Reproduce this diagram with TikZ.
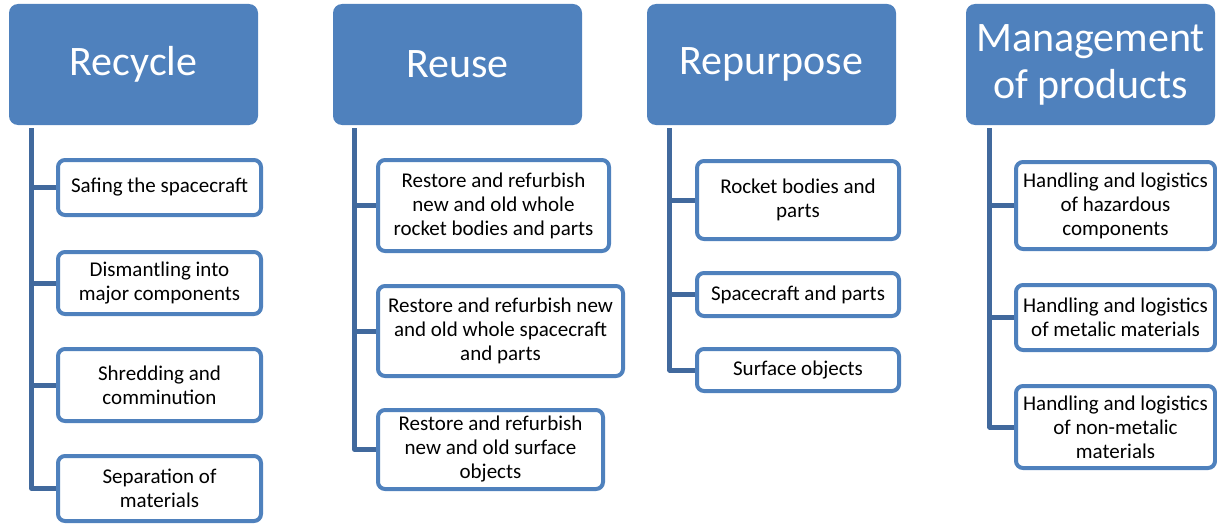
\documentclass[tikz,border=0pt]{standalone}
\usepackage{fontspec}
\setmainfont{Carlito}
\usepackage{tikz}
\usetikzlibrary{positioning,calc}
\definecolor{HEADBLUE}{HTML}{4F81BD}
\definecolor{LINKBLUE}{HTML}{41699D}
\tikzstyle{HEADER} = [rectangle, rounded corners=9pt, fill=HEADBLUE, text=white, align=center, inner sep=0pt, minimum width=249pt, minimum height=121pt, font=\fontsize{42}{47}\selectfont]
\tikzstyle{ITEM} = [rectangle, rounded corners=7pt, draw=HEADBLUE, line width=4pt, fill=white, align=center, inner sep=0pt, font=\fontsize{21}{24}\selectfont]
\tikzstyle{LINE} = [draw=LINKBLUE, line width=5pt, line join=round]

\begin{document}
\begin{tikzpicture}[x=1pt, y=-1pt]
\useasboundingbox (0,0) rectangle (1217,527);
% Place nodes
\node [HEADER] (rec) at (133.5,64.5) {Recycle};
\node [HEADER] (reu) at (457.5,64.5) {Reuse};
\node [HEADER] (rep) at (771.5,64.5) {Repurpose};
\node [HEADER] (man) at (1090.5,64.5) {Management\\of products};
% Recycle
\node [ITEM, minimum width=203pt, minimum height=55pt] (rec1) at (159.5,187.5) {Safing the spacecraft};
\node [ITEM, minimum width=203pt, minimum height=62pt] (rec2) at (159.5,283) {Dismantling into\\major components};
\node [ITEM, minimum width=203pt, minimum height=72pt] (rec3) at (159.5,385) {Shredding and\\comminution};
\node [ITEM, minimum width=203pt, minimum height=65pt] (rec4) at (159.5,488.5) {Separation of\\materials};
% Reuse
\node [ITEM, minimum width=231pt, minimum height=91pt] (reu1) at (493.5,205.5) {Restore and refurbish\\new and old whole\\rocket bodies and parts};
\node [ITEM, minimum width=245pt, minimum height=90pt] (reu2) at (500.5,331) {Restore and refurbish new\\and old whole spacecraft\\and parts};
\node [ITEM, minimum width=225pt, minimum height=79pt] (reu3) at (490.5,449.5) {Restore and refurbish\\new and old surface\\objects};
% Repurpose
\node [ITEM, minimum width=202pt, minimum height=78pt] (rep1) at (798,200) {Rocket bodies and\\parts};
\node [ITEM, minimum width=202pt, minimum height=43pt] (rep2) at (798,294.5) {Spacecraft and parts};
\node [ITEM, minimum width=202pt, minimum height=42pt] (rep3) at (798,370) {Surface objects};
% Management
\node [ITEM, minimum width=199pt, minimum height=87pt] (man1) at (1115.5,205.5) {Handling and logistics\\of hazardous\\components};
\node [ITEM, minimum width=199pt, minimum height=65pt] (man2) at (1115.5,317.5) {Handling and logistics\\of metalic materials};
\node [ITEM, minimum width=199pt, minimum height=82pt] (man3) at (1115.5,427) {Handling and logistics\\of non-metalic\\materials};
% LINES
\coordinate (rec0) at ($(rec.south west)+(23,3)$);
\coordinate (reu0) at ($(reu.south west)+(22,3)$);
\coordinate (rep0) at ($(rep.south west)+(23,3)$);
\coordinate (man0) at ($(man.south west)+(24,3)$);
\path [LINE] (rec0) |- (rec4.west);
\path [LINE] (rec0) |- (rec1.west);
\path [LINE] (rec0) |- (rec2.west);
\path [LINE] (rec0) |- (rec3.west);
\path [LINE] (reu0) |- (reu3.west);
\path [LINE] (reu0) |- (reu1.west);
\path [LINE] (reu0) |- (reu2.west);
\path [LINE] (rep0) |- (rep3.west);
\path [LINE] (rep0) |- (rep1.west);
\path [LINE] (rep0) |- (rep2.west);
\path [LINE] (man0) |- (man3.west);
\path [LINE] (man0) |- (man1.west);
\path [LINE] (man0) |- (man2.west);
\end{tikzpicture}
\end{document}
